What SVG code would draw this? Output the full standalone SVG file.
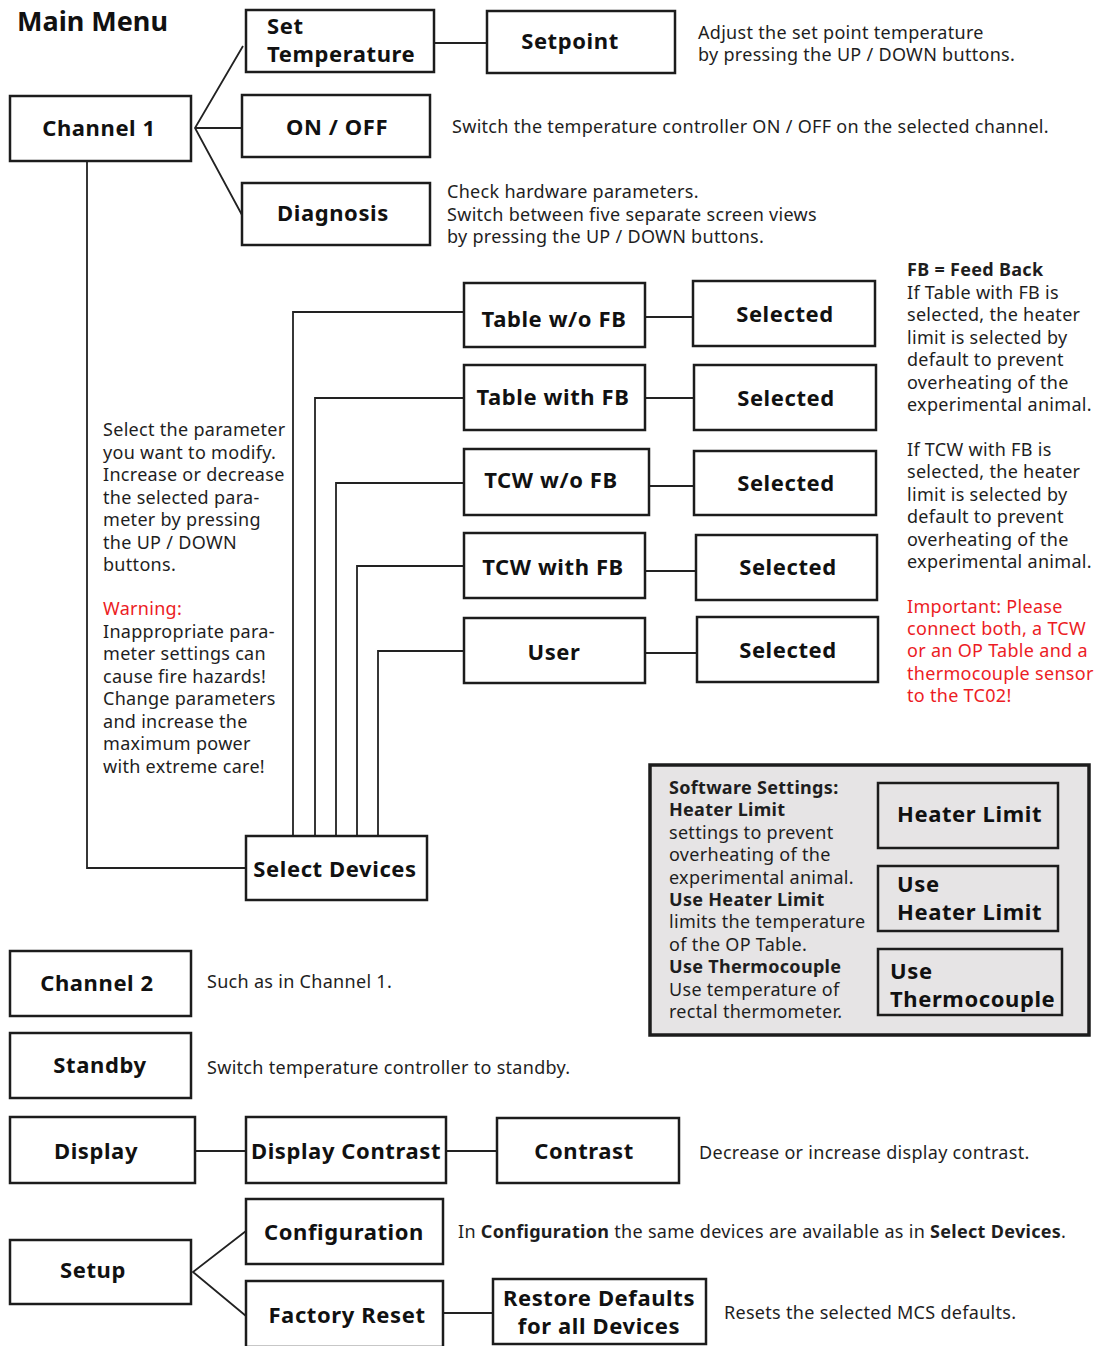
<svg xmlns="http://www.w3.org/2000/svg" width="1095" height="1346" viewBox="0 0 1095 1346">
<style>
.box{fill:#fff;stroke:#1c1c1c;stroke-width:2.5}
.gbox{fill:#e6e4e5;stroke:#1c1c1c;stroke-width:2.5}
.lbl{font-family:"Noto Sans","Open Sans",sans-serif;font-weight:700;font-size:22px;letter-spacing:0.6px;fill:#111}
.title{font-family:"Noto Sans","Open Sans",sans-serif;font-weight:700;font-size:27px;fill:#111}
.mid{text-anchor:middle}
.desc{font-family:"Noto Sans","Open Sans",sans-serif;font-size:18px;letter-spacing:0.3px;fill:#1e1e1e}
.b{font-weight:700}
.red{fill:#ec1c24}
.conn{stroke:#222;stroke-width:1.8;fill:none}
</style>
<rect width="1095" height="1346" fill="#fff"/>
<text class="title" x="17" y="31">Main Menu</text>

<g id="connectors" class="conn">
<polyline points="434,43 487,43"/>
<polyline points="243,46 195,128 242,215"/>
<polyline points="195,128 242,128"/>
<polyline points="87,161 87,868 246,868"/>
<polyline points="293,836 293,312 464,312"/>
<polyline points="315,836 315,398 464,398"/>
<polyline points="336,836 336,483 464,483"/>
<polyline points="357,836 357,566 464,566"/>
<polyline points="378,836 378,651 464,651"/>
<polyline points="645,317 693,317"/>
<polyline points="645,398 694,398"/>
<polyline points="649,486 694,486"/>
<polyline points="645,571 696,571"/>
<polyline points="645,653 697,653"/>
<polyline points="195,1151 246,1151"/>
<polyline points="446,1151 497,1151"/>
<polyline points="246,1231 193,1272 246,1316"/>
<polyline points="443,1313 493,1313"/>
</g>

<g id="set-temperature"><rect class="box" x="246" y="10" width="188" height="62"/><text class="lbl" x="267" y="34">Set</text><text class="lbl" x="267" y="62">Temperature</text></g>
<g id="setpoint"><rect class="box" x="487" y="11" width="188" height="62"/><text class="lbl mid" x="570" y="49">Setpoint</text></g>
<g id="setpoint-desc"><text class="desc" x="698" y="39">Adjust the set point temperature</text><text class="desc" x="698" y="61">by pressing the UP / DOWN buttons.</text></g>
<g id="channel1"><rect class="box" x="10" y="96" width="181" height="65"/><text class="lbl mid" x="99" y="136">Channel 1</text></g>
<g id="onoff"><rect class="box" x="242" y="95" width="188" height="62"/><text class="lbl mid" x="337" y="135">ON / OFF</text><text class="desc" x="452" y="133">Switch the temperature controller ON / OFF on the selected channel.</text></g>
<g id="diagnosis"><rect class="box" x="242" y="183" width="188" height="62"/><text class="lbl mid" x="333" y="221">Diagnosis</text>
<text class="desc" x="447" y="198">Check hardware parameters.</text><text class="desc" x="447" y="221">Switch between five separate screen views</text><text class="desc" x="447" y="243">by pressing the UP / DOWN buttons.</text></g>

<g id="param-note">
<text class="desc" x="103" y="436">Select the parameter</text>
<text class="desc" x="103" y="458.5">you want to modify.</text>
<text class="desc" x="103" y="481">Increase or decrease</text>
<text class="desc" x="103" y="503.5">the selected para-</text>
<text class="desc" x="103" y="526">meter by pressing</text>
<text class="desc" x="103" y="548.5">the UP / DOWN</text>
<text class="desc" x="103" y="571">buttons.</text>
<text class="desc red" x="103" y="615">Warning:</text>
<text class="desc" x="103" y="638">Inappropriate para-</text>
<text class="desc" x="103" y="660">meter settings can</text>
<text class="desc" x="103" y="683">cause fire hazards!</text>
<text class="desc" x="103" y="705">Change parameters</text>
<text class="desc" x="103" y="728">and increase the</text>
<text class="desc" x="103" y="750">maximum power</text>
<text class="desc" x="103" y="773">with extreme care!</text>
</g>

<g id="table-wo-fb"><rect class="box" x="464" y="283" width="181" height="64"/><text class="lbl mid" x="554" y="327">Table w/o FB</text></g>
<g id="selected1"><rect class="box" x="693" y="281" width="182" height="65"/><text class="lbl mid" x="785" y="322">Selected</text></g>
<g id="table-with-fb"><rect class="box" x="464" y="365" width="181" height="65"/><text class="lbl mid" x="553" y="405">Table with FB</text></g>
<g id="selected2"><rect class="box" x="694" y="365" width="182" height="65"/><text class="lbl mid" x="786" y="406">Selected</text></g>
<g id="tcw-wo-fb"><rect class="box" x="464" y="449" width="185" height="66"/><text class="lbl mid" x="551" y="488">TCW w/o FB</text></g>
<g id="selected3"><rect class="box" x="694" y="451" width="182" height="64"/><text class="lbl mid" x="786" y="491">Selected</text></g>
<g id="tcw-with-fb"><rect class="box" x="464" y="533" width="181" height="65"/><text class="lbl mid" x="553" y="575">TCW with FB</text></g>
<g id="selected4"><rect class="box" x="696" y="535" width="181" height="65"/><text class="lbl mid" x="788" y="575">Selected</text></g>
<g id="user"><rect class="box" x="464" y="618" width="181" height="65"/><text class="lbl mid" x="554" y="660">User</text></g>
<g id="selected5"><rect class="box" x="697" y="617" width="181" height="65"/><text class="lbl mid" x="788" y="658">Selected</text></g>
<g id="select-devices"><rect class="box" x="246" y="836" width="181" height="64"/><text class="lbl mid" x="335" y="877">Select Devices</text></g>

<g id="fb-note">
<text class="desc b" x="907" y="276">FB = Feed Back</text>
<text class="desc" x="907" y="299">If Table with FB is</text>
<text class="desc" x="907" y="321">selected, the heater</text>
<text class="desc" x="907" y="344">limit is selected by</text>
<text class="desc" x="907" y="366">default to prevent</text>
<text class="desc" x="907" y="389">overheating of the</text>
<text class="desc" x="907" y="411">experimental animal.</text>
<text class="desc" x="907" y="456">If TCW with FB is</text>
<text class="desc" x="907" y="478">selected, the heater</text>
<text class="desc" x="907" y="501">limit is selected by</text>
<text class="desc" x="907" y="523">default to prevent</text>
<text class="desc" x="907" y="546">overheating of the</text>
<text class="desc" x="907" y="568">experimental animal.</text>
<text class="desc red" x="907" y="613">Important: Please</text>
<text class="desc red" x="907" y="635">connect both, a TCW</text>
<text class="desc red" x="907" y="657">or an OP Table and a</text>
<text class="desc red" x="907" y="680">thermocouple sensor</text>
<text class="desc red" x="907" y="702">to the TC02!</text>
</g>

<g id="software-settings">
<rect x="650" y="765" width="439" height="270" fill="#e6e4e5" stroke="#1c1c1c" stroke-width="3.5"/>
<text class="desc b" x="669" y="794">Software Settings:</text>
<text class="desc b" x="669" y="816">Heater Limit</text>
<text class="desc" x="669" y="839">settings to prevent</text>
<text class="desc" x="669" y="861">overheating of the</text>
<text class="desc" x="669" y="884">experimental animal.</text>
<text class="desc b" x="669" y="906">Use Heater Limit</text>
<text class="desc" x="669" y="928">limits the temperature</text>
<text class="desc" x="669" y="951">of the OP Table.</text>
<text class="desc b" x="669" y="973">Use Thermocouple</text>
<text class="desc" x="669" y="996">Use temperature of</text>
<text class="desc" x="669" y="1018">rectal thermometer.</text>
</g>
<g id="heater-limit"><rect class="gbox" x="878" y="783" width="180" height="65"/><text class="lbl" x="897" y="822">Heater Limit</text></g>
<g id="use-heater-limit"><rect class="gbox" x="878" y="866" width="180" height="65"/><text class="lbl" x="897" y="892">Use</text><text class="lbl" x="897" y="920">Heater Limit</text></g>
<g id="use-thermocouple"><rect class="gbox" x="878" y="949" width="184" height="66"/><text class="lbl" x="890" y="979">Use</text><text class="lbl" x="890" y="1007">Thermocouple</text></g>

<g id="channel2"><rect class="box" x="10" y="951" width="181" height="65"/><text class="lbl mid" x="97" y="991">Channel 2</text><text class="desc" x="207" y="988">Such as in Channel 1.</text></g>
<g id="standby"><rect class="box" x="10" y="1033" width="181" height="65"/><text class="lbl mid" x="100" y="1073">Standby</text><text class="desc" x="207" y="1074">Switch temperature controller to standby.</text></g>

<g id="display"><rect class="box" x="10" y="1117" width="185" height="66"/><text class="lbl mid" x="96" y="1159">Display</text></g>
<g id="display-contrast"><rect class="box" x="246" y="1117" width="200" height="66"/><text class="lbl mid" x="346" y="1159">Display Contrast</text></g>
<g id="contrast"><rect class="box" x="497" y="1118" width="182" height="65"/><text class="lbl mid" x="584" y="1159">Contrast</text><text class="desc" x="699" y="1159">Decrease or increase display contrast.</text></g>

<g id="setup"><rect class="box" x="10" y="1240" width="181" height="64"/><text class="lbl mid" x="93" y="1278">Setup</text></g>
<g id="configuration"><rect class="box" x="246" y="1199" width="197" height="65"/><text class="lbl mid" x="344" y="1240">Configuration</text>
<text class="desc" x="458" y="1238">In <tspan class="b">Configuration</tspan> the same devices are available as in <tspan class="b">Select Devices</tspan>.</text></g>
<g id="factory-reset"><rect class="box" x="246" y="1281" width="197" height="66"/><text class="lbl mid" x="347" y="1323">Factory Reset</text></g>
<g id="restore-defaults"><rect class="box" x="493" y="1279" width="213" height="65"/><text class="lbl mid" x="599" y="1306">Restore Defaults</text><text class="lbl mid" x="599" y="1334">for all Devices</text>
<text class="desc" x="724" y="1319">Resets the selected MCS defaults.</text></g>
</svg>
